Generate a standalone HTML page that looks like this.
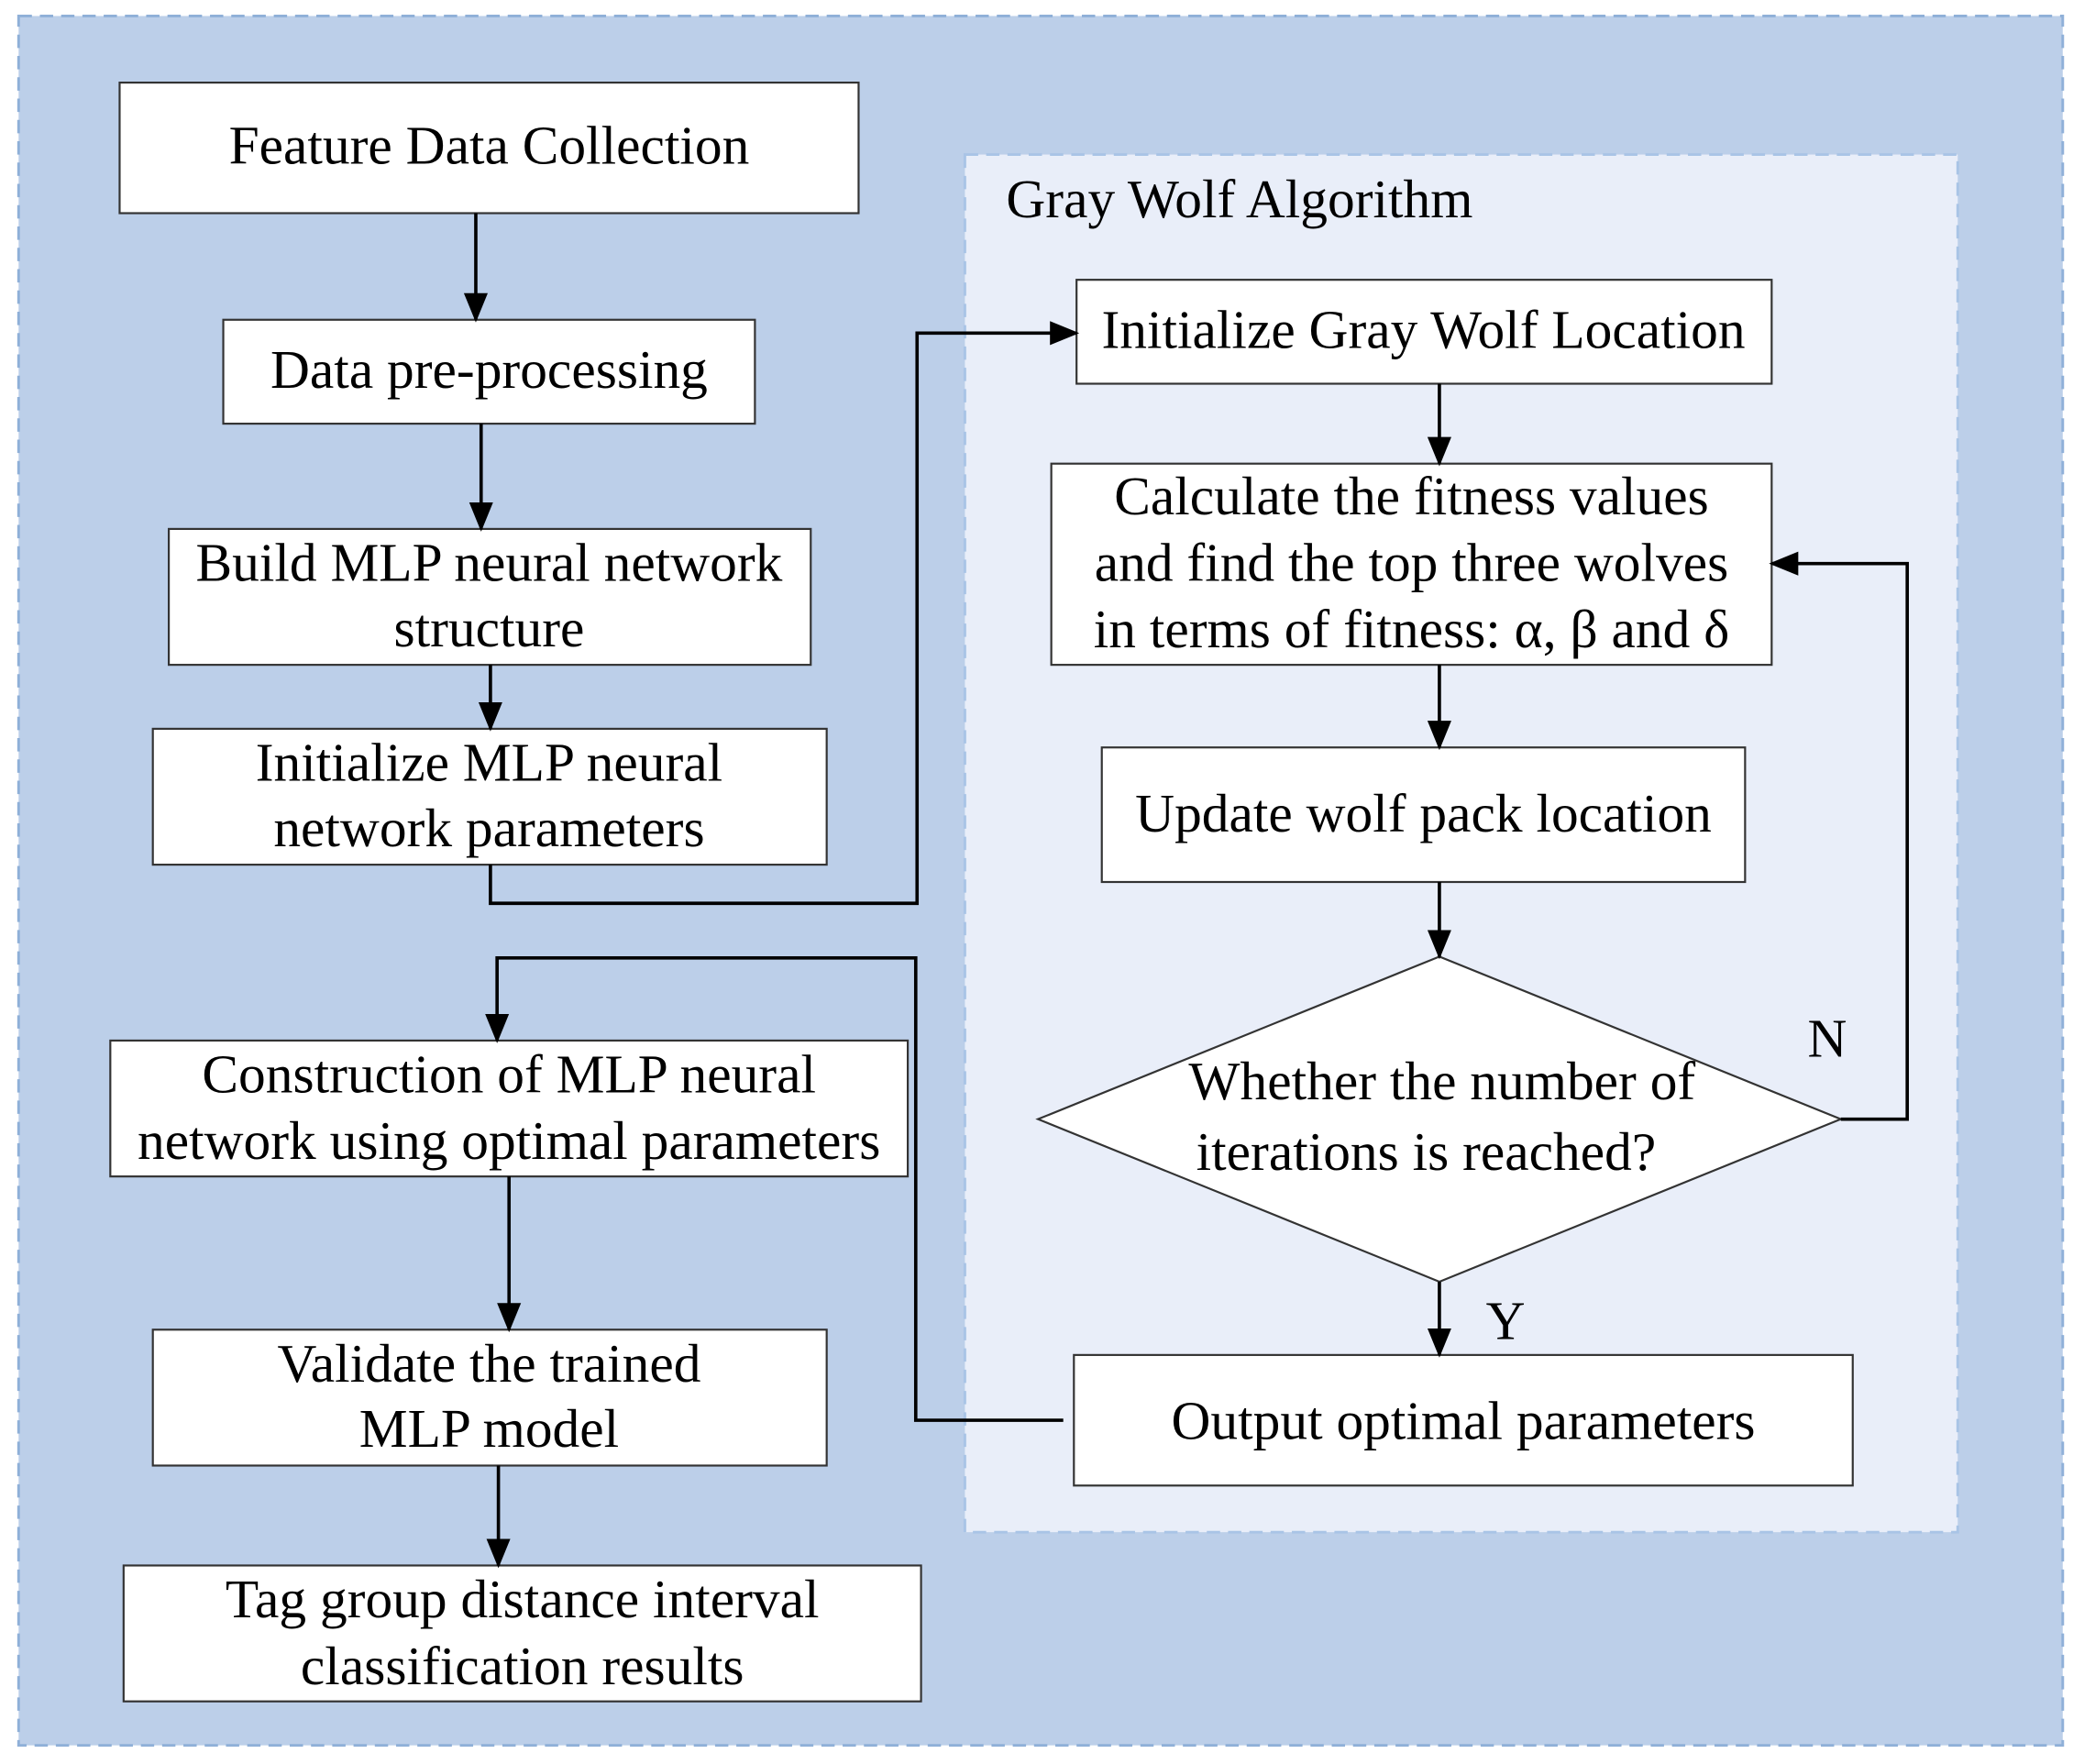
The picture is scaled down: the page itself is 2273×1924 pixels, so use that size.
<!DOCTYPE html>
<html><head><meta charset="utf-8"><style>
html,body{margin:0;padding:0;background:#fff;}
svg{display:block;}
text{font-family:"Liberation Serif",serif;font-size:41px;fill:#000;}
</style></head><body>
<svg width="2273" height="1924" viewBox="0 0 1568 1324" preserveAspectRatio="none" xmlns="http://www.w3.org/2000/svg">
<defs>
<marker id="b" markerWidth="22" markerHeight="22" refX="20" refY="11" orient="auto" markerUnits="userSpaceOnUse" viewBox="0 0 22 22"><path d="M0,2 L22,11 L0,20z" fill="#000"/></marker></defs>
<rect x="0" y="0" width="1568" height="1324" fill="#fff"/>
<rect x="14" y="12" width="1538" height="1298" fill="#bccfe9" stroke="#8fb0d8" stroke-width="2" stroke-dasharray="10,6"/>
<rect x="726" y="116" width="747" height="1034" fill="#e9eef9" stroke="#a9c4e6" stroke-width="2" stroke-dasharray="10,6"/>
<g fill="#fff" stroke="#333" stroke-width="1.5">
<rect x="90" y="62" width="556" height="98"/>
<rect x="168" y="240" width="400" height="78"/>
<rect x="127" y="397" width="483" height="102"/>
<rect x="115" y="547" width="507" height="102"/>
<rect x="83" y="781" width="600" height="102"/>
<rect x="115" y="998" width="507" height="102"/>
<rect x="93" y="1175" width="600" height="102"/>
<rect x="810" y="210" width="523" height="78"/>
<rect x="791" y="348" width="542" height="151"/>
<rect x="829" y="561" width="484" height="101"/>
<polygon points="1083,718 1385,840 1083,962 781,840"/>
<rect x="808" y="1017" width="586" height="98"/>
</g>
<g stroke="#000" stroke-width="2.5" fill="none" marker-end="url(#b)">
<path d="M358,160 V240"/>
<path d="M362,318 V397"/>
<path d="M369,499 V547"/>
<path d="M369,649 V678 H690 V250 H810"/>
<path d="M1083,288 V348"/>
<path d="M1083,499 V561"/>
<path d="M1083,662 V718"/>
<path d="M1083,962 V1017"/>
<path d="M1385,840 H1435 V423 H1333"/>
<path d="M800,1066 H689 V719 H374 V781"/>
<path d="M383,883 V998"/>
<path d="M375,1100 V1175"/>
</g>
<g text-anchor="middle">
<text x="368" y="123">Feature Data Collection</text>
<text x="368" y="291">Data pre-processing</text>
<text x="368" y="436">Build MLP neural network</text>
<text x="368" y="485">structure</text>
<text x="368" y="586">Initialize MLP neural</text>
<text x="368" y="635">network parameters</text>
<text x="383" y="820">Construction of MLP neural</text>
<text x="383" y="870">network using optimal parameters</text>
<text x="368" y="1037">Validate the trained</text>
<text x="368" y="1086">MLP model</text>
<text x="393" y="1214">Tag group distance interval</text>
<text x="393" y="1264">classification results</text>
<text x="1071" y="261">Initialize Gray Wolf Location</text>
<text x="1062" y="386">Calculate the fitness values</text>
<text x="1062" y="436">and find the top three wolves</text>
<text x="1062" y="486">in terms of fitness: α, β and δ</text>
<text x="1071" y="624">Update wolf pack location</text>
<text x="1085" y="825">Whether the number of</text>
<text x="1073" y="878">iterations is reached?</text>
<text x="1101" y="1080">Output optimal parameters</text>
</g>
<text x="757" y="163">Gray Wolf Algorithm</text>
<text x="1360" y="793">N</text>
<text x="1118" y="1005">Y</text>
</svg>
</body></html>
